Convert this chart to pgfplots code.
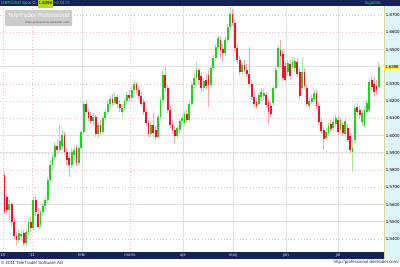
\documentclass[border=0pt]{standalone}
\usepackage{pgfplots}
\pgfplotsset{compat=1.18}
\usepackage{pgfplotstable}
\usepackage{fontspec}
\setmainfont{Liberation Sans}
\definecolor{navy}{HTML}{14215A}
\definecolor{upc}{HTML}{1ED21E}
\definecolor{dnc}{HTML}{F0141E}
\definecolor{upw}{HTML}{A6E8A0}
\definecolor{dnw}{HTML}{F5A8B0}
\definecolor{panel}{HTML}{DDF6FA}
\definecolor{gridpink}{HTML}{F0C0C8}
\definecolor{gridgray}{HTML}{E2E2E2}
\definecolor{hdrgreen}{HTML}{3CE03C}
\definecolor{tickblue}{HTML}{C8D0EC}

\pgfplotstableread{
k o h l c
0 1.5771 1.5789 1.5545 1.5556
1 1.5643 1.5655 1.5551 1.5568
2 1.5568 1.5626 1.5510 1.5603
3 1.5603 1.5614 1.5475 1.5498
4 1.5498 1.5521 1.5399 1.5417
5 1.5417 1.5440 1.5365 1.5394
6 1.5394 1.5458 1.5376 1.5434
7 1.5417 1.5452 1.5388 1.5428
8 1.5434 1.5452 1.5359 1.5376
9 1.5376 1.5458 1.5365 1.5440
10 1.5440 1.5521 1.5423 1.5498
11 1.5498 1.5533 1.5440 1.5463
12 1.5463 1.5643 1.5452 1.5626
13 1.5626 1.5649 1.5533 1.5556
14 1.5545 1.5580 1.5463 1.5469
15 1.5481 1.5568 1.5463 1.5556
16 1.5556 1.5609 1.5533 1.5591
17 1.5591 1.5649 1.5556 1.5626
18 1.5626 1.5760 1.5609 1.5742
19 1.5742 1.5858 1.5725 1.5829
20 1.5829 1.5893 1.5800 1.5876
21 1.5876 1.5963 1.5858 1.5940
22 1.5940 1.5975 1.5893 1.5917
23 1.5917 1.6062 1.5899 1.5969
24 1.5940 1.6033 1.5917 1.6004
25 1.6004 1.6021 1.5888 1.5905
26 1.5905 1.5928 1.5829 1.5858
27 1.5870 1.5905 1.5760 1.5829
28 1.5829 1.5928 1.5812 1.5905
29 1.5888 1.5940 1.5858 1.5917
30 1.5928 1.5946 1.5824 1.5841
31 1.5841 1.5940 1.5824 1.5928
32 1.5928 1.6033 1.5917 1.6021
33 1.6021 1.6195 1.6010 1.6184
34 1.6184 1.6207 1.6126 1.6137
35 1.6137 1.6155 1.6085 1.6102
36 1.6114 1.6137 1.6068 1.6085
37 1.6085 1.6132 1.6056 1.6108
38 1.6108 1.6120 1.5992 1.6010
39 1.6010 1.6079 1.5986 1.6062
40 1.6062 1.6091 1.6004 1.6021
41 1.6021 1.6114 1.6010 1.6102
42 1.6102 1.6161 1.6085 1.6137
43 1.6137 1.6207 1.6120 1.6184
44 1.6184 1.6236 1.6166 1.6213
45 1.6213 1.6242 1.6172 1.6190
46 1.6190 1.6248 1.6178 1.6224
47 1.6224 1.6236 1.6161 1.6184
48 1.6184 1.6207 1.6137 1.6161
49 1.6137 1.6184 1.6108 1.6161
50 1.6161 1.6219 1.6143 1.6201
51 1.6201 1.6253 1.6184 1.6236
52 1.6236 1.6265 1.6201 1.6219
53 1.6219 1.6288 1.6207 1.6265
54 1.6265 1.6323 1.6248 1.6300
55 1.6300 1.6312 1.6242 1.6265
56 1.6265 1.6288 1.6213 1.6230
57 1.6230 1.6253 1.6166 1.6184
58 1.6195 1.6213 1.6120 1.6137
59 1.6137 1.6161 1.6056 1.6073
60 1.6073 1.6091 1.5992 1.6010
61 1.6010 1.6079 1.5992 1.6062
62 1.6062 1.6132 1.5992 1.6015
63 1.6033 1.6056 1.5975 1.5992
64 1.5992 1.6120 1.5981 1.6108
65 1.6108 1.6224 1.6097 1.6207
66 1.6207 1.6381 1.6190 1.6352
67 1.6352 1.6399 1.6253 1.6277
68 1.6277 1.6295 1.6132 1.6149
69 1.6149 1.6172 1.6044 1.6062
70 1.6062 1.6091 1.6010 1.6033
71 1.6033 1.6056 1.5957 1.5998
72 1.5998 1.6062 1.5981 1.6044
73 1.6033 1.6102 1.6010 1.6085
74 1.6085 1.6132 1.6068 1.6102
75 1.6073 1.6143 1.6056 1.6126
76 1.6126 1.6149 1.6073 1.6091
77 1.6091 1.6207 1.6079 1.6184
78 1.6184 1.6312 1.6172 1.6294
79 1.6294 1.6364 1.6277 1.6335
80 1.6335 1.6428 1.6312 1.6381
81 1.6381 1.6393 1.6300 1.6323
82 1.6346 1.6370 1.6253 1.6277
83 1.6277 1.6335 1.6253 1.6317
84 1.6323 1.6358 1.6265 1.6288
85 1.6352 1.6381 1.6166 1.6294
86 1.6294 1.6405 1.6277 1.6393
87 1.6393 1.6468 1.6375 1.6451
88 1.6451 1.6532 1.6434 1.6515
89 1.6515 1.6579 1.6498 1.6567
90 1.6556 1.6579 1.6451 1.6498
91 1.6503 1.6532 1.6428 1.6480
92 1.6480 1.6573 1.6463 1.6556
93 1.6556 1.6649 1.6538 1.6631
94 1.6631 1.6747 1.6614 1.6707
95 1.6707 1.6736 1.6637 1.6654
96 1.6654 1.6672 1.6486 1.6509
97 1.6509 1.6532 1.6416 1.6439
98 1.6439 1.6463 1.6352 1.6370
99 1.6370 1.6428 1.6352 1.6410
100 1.6410 1.6439 1.6364 1.6381
101 1.6381 1.6416 1.6341 1.6358
102 1.6358 1.6515 1.6283 1.6300
103 1.6300 1.6323 1.6207 1.6224
104 1.6224 1.6253 1.6166 1.6184
105 1.6195 1.6219 1.6155 1.6172
106 1.6184 1.6253 1.6172 1.6236
107 1.6224 1.6277 1.6201 1.6253
108 1.6230 1.6271 1.6207 1.6248
109 1.6236 1.6253 1.6161 1.6178
110 1.6195 1.6213 1.6062 1.6137
111 1.6172 1.6195 1.6102 1.6126
112 1.6190 1.6288 1.6172 1.6277
113 1.6277 1.6399 1.6265 1.6381
114 1.6399 1.6527 1.6387 1.6509
115 1.6498 1.6556 1.6399 1.6463
116 1.6474 1.6498 1.6317 1.6335
117 1.6405 1.6428 1.6312 1.6323
118 1.6370 1.6439 1.6346 1.6422
119 1.6416 1.6439 1.6329 1.6346
120 1.6399 1.6451 1.6381 1.6428
121 1.6393 1.6457 1.6370 1.6434
122 1.6428 1.6451 1.6341 1.6358
123 1.6370 1.6393 1.6213 1.6230
124 1.6277 1.6451 1.6265 1.6370
125 1.6370 1.6393 1.6271 1.6288
126 1.6277 1.6300 1.6166 1.6184
127 1.6172 1.6224 1.6155 1.6201
128 1.6195 1.6242 1.6184 1.6219
129 1.6213 1.6265 1.6195 1.6248
130 1.6248 1.6265 1.6155 1.6172
131 1.6172 1.6195 1.6062 1.6079
132 1.6079 1.6102 1.6010 1.6027
133 1.6033 1.6050 1.5917 1.5981
134 1.5986 1.6044 1.5969 1.6021
135 1.6015 1.6079 1.5998 1.6056
136 1.6068 1.6091 1.6021 1.6039
137 1.6044 1.6102 1.6027 1.6079
138 1.6068 1.6126 1.6050 1.6102
139 1.6091 1.6114 1.6004 1.6021
140 1.6033 1.6108 1.6015 1.6091
141 1.6062 1.6079 1.5998 1.6015
142 1.6010 1.6102 1.5992 1.6085
143 1.6044 1.6068 1.5963 1.5975
144 1.5998 1.6021 1.5899 1.5917
145 1.5905 1.5975 1.5789 1.5928
146 1.5975 1.6178 1.5957 1.6161
147 1.6166 1.6190 1.6114 1.6137
148 1.6149 1.6172 1.6097 1.6120
149 1.6079 1.6149 1.6056 1.6132
150 1.6056 1.6172 1.6044 1.6149
151 1.6137 1.6207 1.6126 1.6190
152 1.6149 1.6329 1.6137 1.6312
153 1.6323 1.6346 1.6265 1.6283
154 1.6300 1.6341 1.6224 1.6253
155 1.6288 1.6323 1.6236 1.6265
156 1.6283 1.6428 1.6271 1.6398
}\candles

\pgfplotsset{
  wick/.style={draw=none, no markers, forget plot,
    error bars/.cd, y dir=both, y explicit, error mark=none,
    error bar style={line width=0.8pt, draw=#1, solid}},
  body/.style={draw=none, no markers, forget plot,
    error bars/.cd, y dir=both, y explicit, error mark=none,
    error bar style={line width=1.8pt, draw=#1, solid}},
}

\newcommand{\ttsz}{\fontsize{4.4}{5}\selectfont}

\begin{document}
\begin{tikzpicture}
\useasboundingbox (0pt,0pt) rectangle (400pt,266pt);
\fill[white] (0pt,0pt) rectangle (400pt,266pt);
\fill[panel] (384pt,7pt) rectangle (400pt,260pt);
\draw[color=yellow!40!gray!60, line width=0.6pt] (384.3pt,7pt) -- (384.3pt,260pt);
\fill[navy] (0pt,7pt) rectangle (384pt,14pt);
\fill[navy] (0pt,260pt) rectangle (400pt,266pt);
% header
\node[anchor=west, inner sep=0pt, font=\ttsz, text=hdrgreen] at (1pt,263pt)
  {GBP/USD Spot \textcolor{yellow}{C:} \colorbox{yellow!70!green}{\hspace{-2.5pt}\textcolor{black}{1.6398}\hspace{-2.5pt}} +0.0174};
\node[anchor=east, inner sep=0pt, font=\ttsz, text=hdrgreen] at (382pt,263pt) {logaritm.};
% watermark
\fill[rounded corners=1pt, gray!40] (5pt,240pt) rectangle (72pt,256pt);
\node[anchor=west, inner sep=0pt, text=white, font=\fontsize{5.8}{6}\selectfont] at (8pt,250.5pt) {TeleTrader Professional};
\node[anchor=east, inner sep=0pt, text=gray!70!black, font=\fontsize{3}{3.5}\selectfont] at (70pt,243.5pt) {http://professional.teletrader.com/};
% footer
\node[anchor=west, inner sep=0pt, font=\ttsz, text=black!80] at (1pt,3.4pt) {\textcopyright{} 2011 TeleTrader Software AG};
\node[anchor=east, inner sep=0pt, font=\ttsz, text=black!80] at (399pt,3.4pt) {http://professional.teletrader.com/};

\begin{axis}[
  at={(0pt,14pt)}, anchor=south west,
  scale only axis, width=384pt, height=246pt,
  xmin=-1.875, xmax=158.125, ymin=1.5324, ymax=1.6753,
  axis line style={draw=none},
  major tick length=0pt,
  clip=false,
  xtick={-0.625,11.46,32.29,52.29,74.38,95.21,117.29,138.96},
  xticklabels={10,'11,febr,marts,apr,maij,jūn,jūl},
  xticklabel style={font=\ttsz, text=tickblue, inner sep=0pt, yshift=-1.6pt},
  ytick={1.54,1.55,1.56,1.57,1.58,1.59,1.60,1.61,1.62,1.63,1.65,1.66,1.67},
  yticklabel pos=right,
  scaled y ticks=false,
  yticklabel style={font=\ttsz, text=black, inner sep=0pt, anchor=west, xshift=1.8pt,
     /pgf/number format/.cd, fixed, fixed zerofill, precision=4, assume math mode=true},
  xmajorgrids, ymajorgrids,
  major grid style={gridpink, line width=0.5pt, dash pattern=on 0.6pt off 2.6pt},
  extra x ticks={32.29,74.38,95.21,117.29,138.96},
  extra x tick labels={},
  extra x tick style={major grid style={gridgray, solid, line width=0.7pt}},
  extra y ticks={1.65,1.64,1.60,1.59,1.56,1.55},
  extra y tick labels={},
  extra y tick style={major grid style={gridgray, solid, line width=0.7pt}},
]
\addplot[restrict expr to domain={\thisrow{c}-\thisrow{o}}{0:1}, wick=upw]
  table[x=k, y expr={(\thisrow{h}+\thisrow{l})/2}, y error expr={(\thisrow{h}-\thisrow{l})/2}] {\candles};
\addplot[restrict expr to domain={\thisrow{c}-\thisrow{o}}{-1:-0.00001}, wick=dnw]
  table[x=k, y expr={(\thisrow{h}+\thisrow{l})/2}, y error expr={(\thisrow{h}-\thisrow{l})/2}] {\candles};
\addplot[restrict expr to domain={\thisrow{c}-\thisrow{o}}{0:1}, body=upc]
  table[x=k, y expr={(\thisrow{o}+\thisrow{c})/2}, y error expr={max(abs(\thisrow{c}-\thisrow{o})/2,0.0002)}] {\candles};
\addplot[restrict expr to domain={\thisrow{c}-\thisrow{o}}{-1:-0.00001}, body=dnc]
  table[x=k, y expr={(\thisrow{o}+\thisrow{c})/2}, y error expr={max(abs(\thisrow{c}-\thisrow{o})/2,0.0002)}] {\candles};
\node[anchor=west, fill=yellow!85!white, inner sep=0.5pt, minimum width=15.5pt, font=\ttsz, text=black]
  at (axis cs:158.125,1.6398) {1.6398};
\end{axis}
\end{tikzpicture}
\end{document}
